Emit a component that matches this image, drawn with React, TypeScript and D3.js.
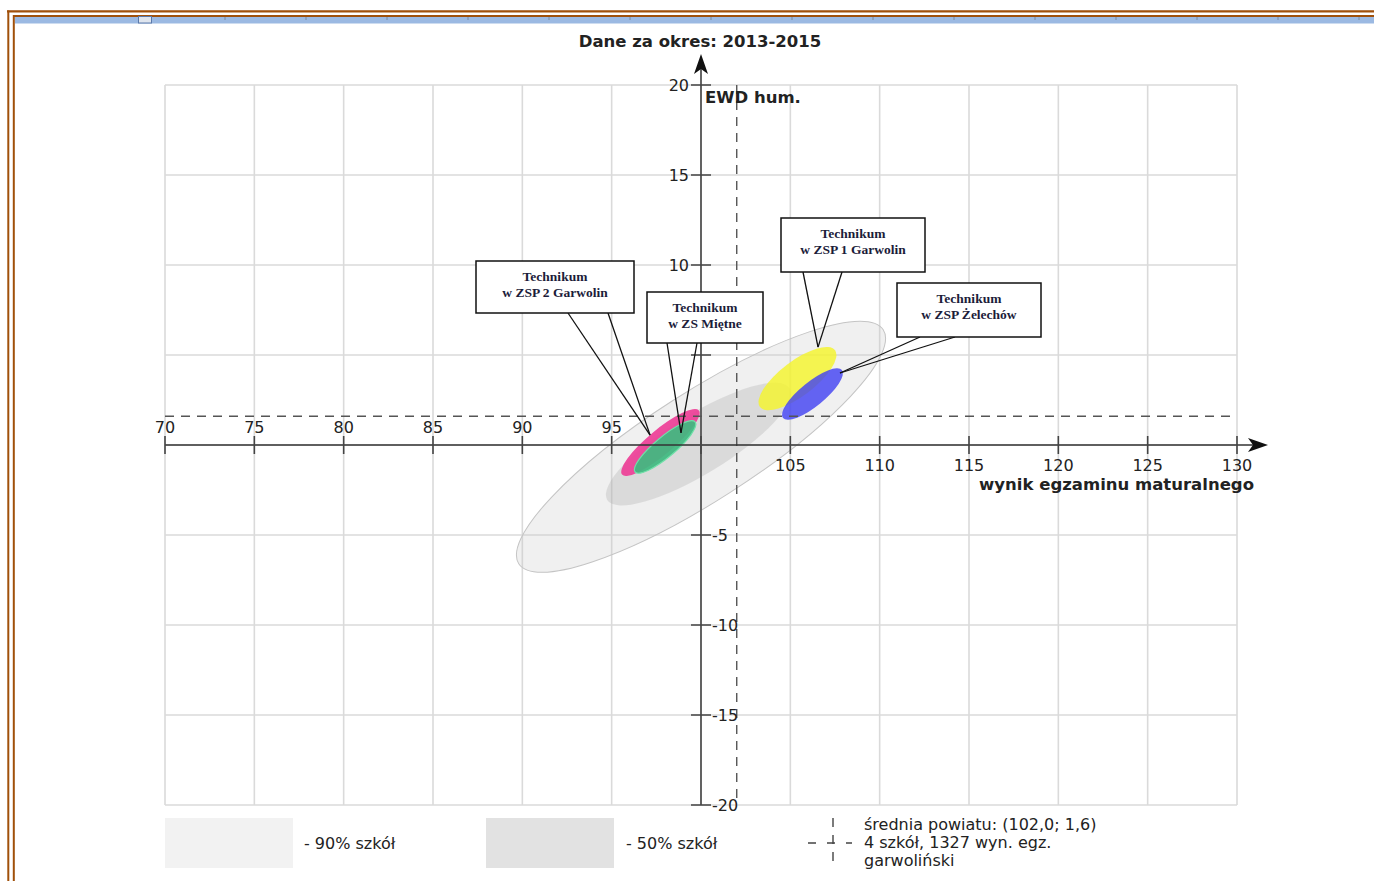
import React from 'react'
import * as d3 from 'd3'

const xTicks = [70, 75, 80, 85, 90, 95, 100, 105, 110, 115, 120, 125, 130]
const yTicks = [-20, -15, -10, -5, 0, 5, 10, 15, 20]
const yLabels = [-20, -15, -10, -5, 10, 15, 20]
const meanPoint = [102.0, 1.6]

// grey bands: centre, half major axis (data units), minor/major ratio
const bandLabels = ['- 90% szkół', '- 50% szkół']
const bandCentres = [[100, -0.1], [99.85, 0.05]]
const bandAxes = [[10.2, 6.5], [5.1, 3.1]]
const bandRatios = [0.25, 0.28]

// schools
const schoolLines = [
  ['Technikum', 'w ZSP 2 Garwolin'],
  ['Technikum', 'w ZS Miętne'],
  ['Technikum', 'w ZSP 1 Garwolin'],
  ['Technikum', 'w ZSP Żelechów'],
]
const schoolCentres = [[97.73, 0.14], [97.99, -0.11], [105.4, 3.69], [106.24, 2.83]]
const schoolAxes = [[2.15, 1.78], [1.68, 1.39], [2.1, 1.58], [1.65, 1.33]]
const schoolRatios = [0.25, 0.26, 0.37, 0.32]
const schoolTargets = [[97.15, 0.55], [98.88, 0.67], [106.55, 5.44], [107.78, 4.0]]

const legendLines = ['średnia powiatu: (102,0; 1,6)', '4 szkół, 1327 wyn. egz.', 'garwoliński']

const schoolColors = ['#ee3f97', '#3fba80', '#f4f42c', '#4343f2']
// callout boxes (pixels): x, y, w, h, pointer base x0, x1
const boxes = [
  [476, 261, 158, 52, 568, 608],
  [647, 292, 116, 51, 667, 697],
  [781, 218, 144, 54, 803, 842],
  [897, 283, 144, 54, 920, 955],
]

const sans = 'DejaVu Sans, sans-serif'

export default function App() {
  const W = 1374, H = 881
  const x = d3.scaleLinear().domain([70, 130]).range([165, 1237])
  const y = d3.scaleLinear().domain([-20, 20]).range([805, 85])
  const x0 = x(100), y0 = y(0)

  const ellipse = (c: number[], ax: number[], ratio: number) => {
    const cx = x(c[0]), cy = y(c[1])
    const dx = x(c[0] + ax[0]) - cx, dy = y(c[1] + ax[1]) - cy
    const a = Math.hypot(dx, dy)
    const ang = (Math.atan2(dy, dx) * 180) / Math.PI
    return { cx, cy, a, b: a * ratio, ang }
  }

  const rulerTicks = d3.range(225, W, 81)

  return (
    <svg width={W} height={H} style={{ position: 'absolute', left: 0, top: 0, background: '#fff' }}>
      {/* page frame */}
      <line x1={7} x2={W} y1={10.5} y2={10.5} stroke="#c8a080" strokeWidth={1} />
      <line x1={7} x2={W} y1={11.5} y2={11.5} stroke="#a0500a" strokeWidth={2} />
      <line x1={13} x2={W} y1={16} y2={16} stroke="#a0500a" strokeWidth={2} />
      <line x1={8.3} x2={8.3} y1={10.5} y2={H} stroke="#a0500a" strokeWidth={2} />
      <line x1={13.8} x2={13.8} y1={15} y2={H} stroke="#a0500a" strokeWidth={2} />
      <rect x={15} y={17} width={W - 15} height={6.5} fill="#9bb9e2" />
      {rulerTicks.map(t => (
        <line key={t} x1={t} x2={t} y1={17} y2={20} stroke="#7a8aa0" strokeWidth={1} />
      ))}
      <rect x={138.5} y={16.5} width={13} height={6.5} fill="#dfe5ee" stroke="#5b79aa" strokeWidth={1} />

      {/* grid */}
      {xTicks.map(t => (
        <line key={'gx' + t} x1={x(t)} x2={x(t)} y1={y(20)} y2={y(-20)} stroke="#dadada" strokeWidth={1.6} />
      ))}
      {yTicks.map(t => (
        <line key={'gy' + t} x1={x(70)} x2={x(130)} y1={y(t)} y2={y(t)} stroke="#dadada" strokeWidth={1.6} />
      ))}

      {/* bands */}
      {bandCentres.map((c, i) => {
        const e = ellipse(c, bandAxes[i], bandRatios[i])
        return (
          <ellipse key={'b' + i} cx={0} cy={0} rx={e.a} ry={e.b}
            transform={`translate(${e.cx},${e.cy}) rotate(${e.ang})`}
            fill={i === 0 ? '#c8c8c8' : '#a8a8a8'} fillOpacity={i === 0 ? 0.28 : 0.3}
            stroke={i === 0 ? '#c4c4c4' : 'none'} strokeWidth={1} />
        )
      })}

      {/* schools */}
      {schoolCentres.map((c, i) => {
        const e = ellipse(c, schoolAxes[i], schoolRatios[i])
        return (
          <ellipse key={'s' + i} cx={0} cy={0} rx={e.a} ry={e.b}
            transform={`translate(${e.cx},${e.cy}) rotate(${e.ang})`}
            fill={schoolColors[i]} fillOpacity={i >= 2 ? 0.82 : 0.92}
            stroke={i === 1 ? '#6fe0a8' : 'none'} strokeWidth={1.2} />
        )
      })}

      {/* mean lines */}
      <line x1={x(70)} x2={x(130)} y1={y(meanPoint[1])} y2={y(meanPoint[1])}
        stroke="#555" strokeWidth={1.4} strokeDasharray="9,7" />
      <line x1={x(meanPoint[0])} x2={x(meanPoint[0])} y1={y(20)} y2={y(-20)}
        stroke="#555" strokeWidth={1.4} strokeDasharray="9,7" />

      {/* axes */}
      <line x1={x(70)} x2={1255} y1={y0} y2={y0} stroke="#333" strokeWidth={1.5} />
      <path d={`M1268,${y0} L1248,${y0 - 7} L1253,${y0} L1248,${y0 + 7} Z`} fill="#111" />
      <line x1={x0} x2={x0} y1={y(-20)} y2={68} stroke="#555" strokeWidth={1.8} />
      <path d={`M${x0},54 L${x0 - 7},74 L${x0},69 L${x0 + 7},74 Z`} fill="#111" />
      {xTicks.map(t => (
        <line key={'tx' + t} x1={x(t)} x2={x(t)} y1={y0 - 9} y2={y0 + 9} stroke="#444" strokeWidth={1.6} />
      ))}
      {yTicks.filter(t => t !== 0).map(t => (
        <line key={'ty' + t} x1={x0 - 10} x2={x0 + 10} y1={y(t)} y2={y(t)} stroke="#444" strokeWidth={1.5} />
      ))}
      {xTicks.filter(t => t !== 100).map(t => (
        <text key={'lx' + t} x={x(t)} y={t < 100 ? y0 - 12 : y0 + 26} textAnchor="middle"
          fontFamily={sans} fontSize={16} fill="#222">{t}</text>
      ))}
      {yLabels.map(t => (
        <text key={'ly' + t} x={t > 0 ? x0 - 12 : x0 + 11} y={y(t) + 6} textAnchor={t > 0 ? 'end' : 'start'}
          fontFamily={sans} fontSize={16} fill="#222">{t}</text>
      ))}

      {/* titles */}
      <text x={700} y={47} textAnchor="middle" fontFamily={sans} fontSize={16.5} fontWeight="bold" fill="#222">
        Dane za okres: 2013-2015
      </text>
      <text x={705} y={103} fontFamily={sans} fontSize={16.5} fontWeight="bold" fill="#222">EWD hum.</text>
      <text x={1254} y={490} textAnchor="end" fontFamily={sans} fontSize={16.5} fontWeight="bold" fill="#222">
        wynik egzaminu maturalnego
      </text>

      {/* callouts */}
      {boxes.map((b, i) => {
        const [bx, by, bw, bh, p0, p1] = b
        const tx = x(schoolTargets[i][0]), ty = y(schoolTargets[i][1])
        return (
          <g key={'c' + i}>
            <line x1={p0} y1={by + bh} x2={tx} y2={ty} stroke="#111" strokeWidth={1.3} />
            <line x1={p1} y1={by + bh} x2={tx} y2={ty} stroke="#111" strokeWidth={1.3} />
            <rect x={bx} y={by} width={bw} height={bh} fill="#fff" stroke="#111" strokeWidth={1.5} />
            {schoolLines[i].map((s, k) => (
              <text key={k} x={bx + bw / 2} y={by + 20 + k * 16} textAnchor="middle"
                fontFamily="Liberation Serif, serif" fontWeight="bold" fontSize={13.5} fill="#1c1c3a">{s}</text>
            ))}
          </g>
        )
      })}

      {/* legend */}
      {bandLabels.map((l, i) => (
        <g key={'lg' + i}>
          <rect x={165 + i * 321} y={818} width={128} height={50} fill={i === 0 ? '#f2f2f2' : '#e2e2e2'} />
          <text x={304 + i * 322} y={849} fontFamily={sans} fontSize={16} fill="#222">{l}</text>
        </g>
      ))}
      <line x1={833} x2={833} y1={818} y2={866} stroke="#444" strokeWidth={1.4} strokeDasharray="9,8" />
      <line x1={808} x2={852} y1={843} y2={843} stroke="#444" strokeWidth={1.4} strokeDasharray="8,11" />
      {legendLines.map((l, k) => (
        <text key={'ll' + k} x={864} y={830 + k * 18} fontFamily={sans} fontSize={16} fill="#222">{l}</text>
      ))}
    </svg>
  )
}
